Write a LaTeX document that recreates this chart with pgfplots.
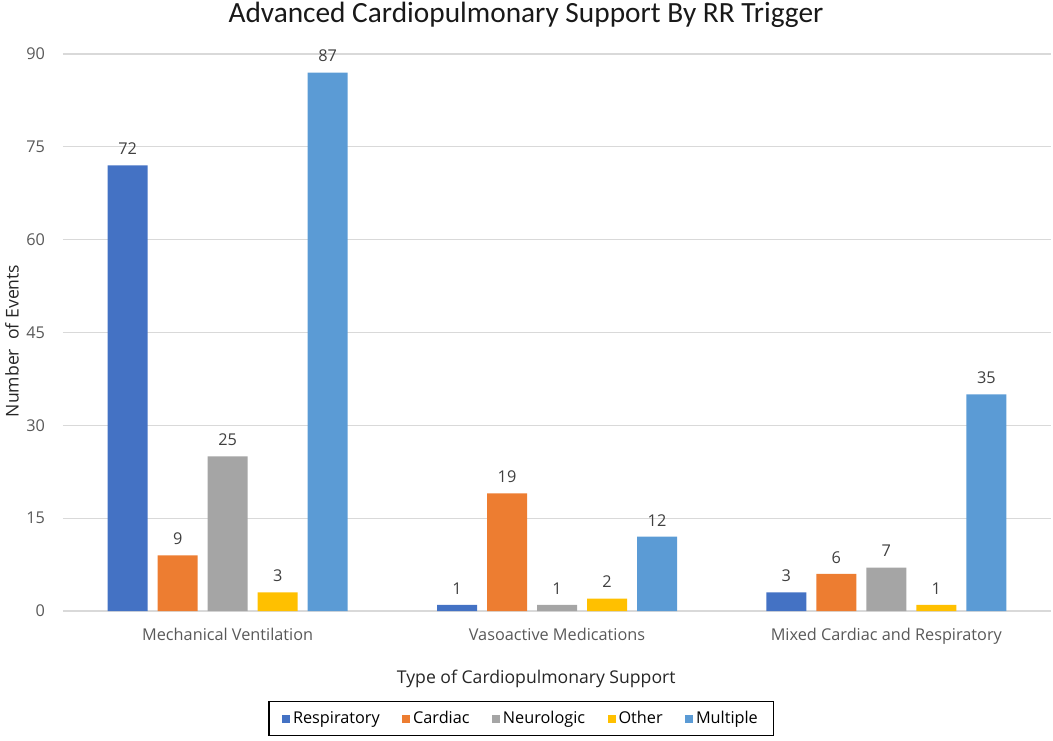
\documentclass[border=0pt]{standalone}
\usepackage{pgfplots}
\pgfplotsset{compat=1.18}
\usepackage{fontspec}
\setmainfont{Open Sans}
\newfontfamily\titlefont{Carlito}
\definecolor{cresp}{HTML}{4472C4}
\definecolor{ccard}{HTML}{ED7D31}
\definecolor{cneur}{HTML}{A5A5A5}
\definecolor{coth}{HTML}{FFC000}
\definecolor{cmult}{HTML}{5B9BD5}
\definecolor{tickc}{HTML}{595959}
\definecolor{gridc}{HTML}{D9D9D9}
\newcommand{\tfont}{\fontsize{12.2}{14}\selectfont}
\newcommand{\lfont}{\fontsize{13.2}{15}\selectfont}
\begin{document}
\begin{tikzpicture}
\useasboundingbox (-47.25pt,-96.75pt) rectangle (742.5pt,458.25pt);
\begin{axis}[
  at={(0,0)}, anchor=south west,
  scale only axis, width=741pt, height=417.75pt,
  xmin=-0.5, xmax=2.5, ymin=0, ymax=90,
  xtick={0,1,2},
  xticklabels={Mechanical Ventilation, Vasoactive Medications, Mixed Cardiac and Respiratory},
  ytick={0,15,30,45,60,75,90},
  /pgf/number format/assume math mode=true,
  major tick length=0pt,
  axis line style={draw=none},
  ymajorgrids, grid style={gridc, line width=0.8pt},
  tick label style={font=\tfont, color=tickc},
  xticklabel style={anchor=base, yshift=-21.75pt},
  yticklabel style={xshift=-10pt},
  title={\titlefont\fontsize{22}{25}\selectfont Advanced Cardiopulmonary Support By RR Trigger},
  title style={at={(axis description cs:0.4686,1)}, anchor=base, yshift=18pt, color=black!90},
  xlabel={Type of Cardiopulmonary Support},
  xlabel style={at={(axis description cs:0.479,0)}, anchor=base, yshift=-54pt, font=\lfont, color=black!85},
  ylabel={Number\ \ of Events},
  ylabel style={at={(axis description cs:0,0.485)}, anchor=center, yshift=38.25pt, font=\lfont, color=black!85},
  legend columns=5,
  legend style={at={(axis description cs:0.464,-0.193)}, anchor=center, draw=black, line width=0.8pt, font=\tfont, inner xsep=10pt, inner ysep=5.5pt,
    /tikz/every even column/.append style={column sep=15pt}},
  legend image code/.code={\fill[#1] (0pt,-3pt) rectangle (6pt,3pt);},
  lbl/.style={nodes near coords, every node near coord/.append style={font=\tfont, color=black!75, anchor=south, yshift=4.5pt, xshift=#1}},
]
\addplot[ybar, bar width=30pt, bar shift=-75pt, fill=cresp, draw=none, lbl=-75pt] coordinates {(0,72) (1,1) (2,3)};
\addplot[ybar, bar width=30pt, bar shift=-37.5pt, fill=ccard, draw=none, lbl=-37.5pt] coordinates {(0,9) (1,19) (2,6)};
\addplot[ybar, bar width=30pt, bar shift=0pt, fill=cneur, draw=none, lbl=0pt] coordinates {(0,25) (1,1) (2,7)};
\addplot[ybar, bar width=30pt, bar shift=37.5pt, fill=coth, draw=none, lbl=37.5pt] coordinates {(0,3) (1,2) (2,1)};
\addplot[ybar, bar width=30pt, bar shift=75pt, fill=cmult, draw=none, lbl=75pt] coordinates {(0,87) (1,12) (2,35)};
\legend{Respiratory, Cardiac, Neurologic, Other, Multiple}
\end{axis}
\end{tikzpicture}
\end{document}
